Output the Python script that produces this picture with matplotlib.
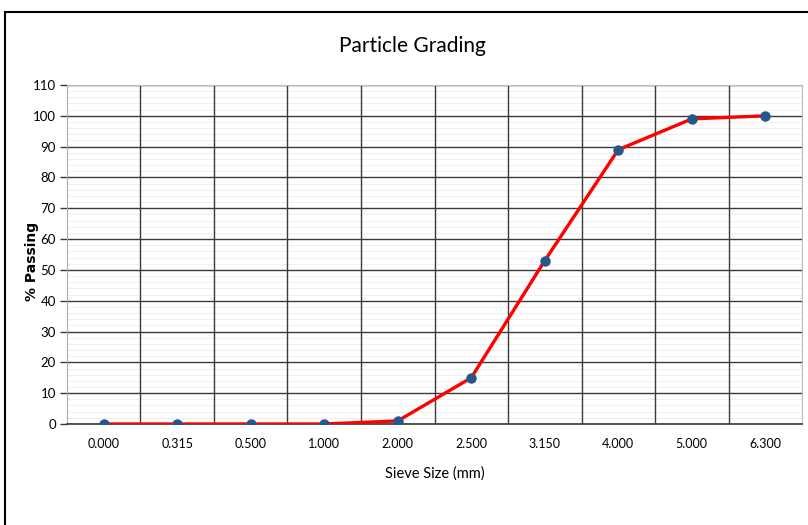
import numpy as np
import matplotlib.pyplot as plt
from matplotlib.patches import Rectangle

sieve_sizes = ['0.000', '0.315', '0.500', '1.000', '2.000', '2.500', '3.150', '4.000', '5.000', '6.300']
passing = [0, 0, 0, 0, 1, 15, 53, 89, 99, 100]
y_ticks = list(range(0, 111, 10))

fig = plt.figure(figsize=(8.08, 5.25), dpi=100)
ax = fig.add_axes([0.0829, 0.1924, 0.9097, 0.6457])

x = np.arange(len(sieve_sizes))

# faint minor lines, then the dark grid
for v in range(0, 111, 2):
    ax.axhline(v, color='#ececec', lw=0.6, zorder=0)
for v in y_ticks:
    ax.axhline(v, color='#3a3a3a', lw=1.0, zorder=1)
for b in np.arange(0.5, len(sieve_sizes) - 0.5, 1):
    ax.axvline(b, color='#3a3a3a', lw=1.0, zorder=1)

ax.plot(x, passing, color='#ff0000', lw=2.4, zorder=3)
ax.plot(x, passing, 'o', color='#27578a', ms=6.5, zorder=4)

ax.set_xlim(-0.5, len(sieve_sizes) - 0.5)
ax.set_ylim(0, 110)
ax.set_xticks(x)
ax.set_xticklabels(sieve_sizes, fontsize=9, family='Lato')
ax.set_yticks(y_ticks)
ax.set_yticklabels([str(v) for v in y_ticks], fontsize=9.5, family='Lato')
ax.tick_params(axis='x', length=0, pad=10)
ax.tick_params(axis='y', length=5, width=1, color='#3a3a3a', pad=3)

for s in ['top', 'right']:
    ax.spines[s].set_color('#bbbbbb')
    ax.spines[s].set_linewidth(0.8)
ax.spines['left'].set_color('#aaaaaa')
ax.spines['bottom'].set_color('#3a3a3a')
ax.spines['bottom'].set_linewidth(1.2)

ax.set_xlabel('Sieve Size (mm)', fontsize=10.5, family='Lato', labelpad=12)
ax.set_ylabel('% Passing', fontsize=10, fontweight='bold')
ax.yaxis.set_label_coords(-0.038, 0.48)

fig.text(0.51, 0.912, 'Particle Grading', ha='center', va='center', fontsize=15, family='Lato')

# outer chart frame
fig.patches.append(Rectangle((0.006, -0.05), 1.1, 1.027, transform=fig.transFigure,
                             fill=False, edgecolor='black', lw=1.5))

fig.savefig('out.png', dpi=100)
